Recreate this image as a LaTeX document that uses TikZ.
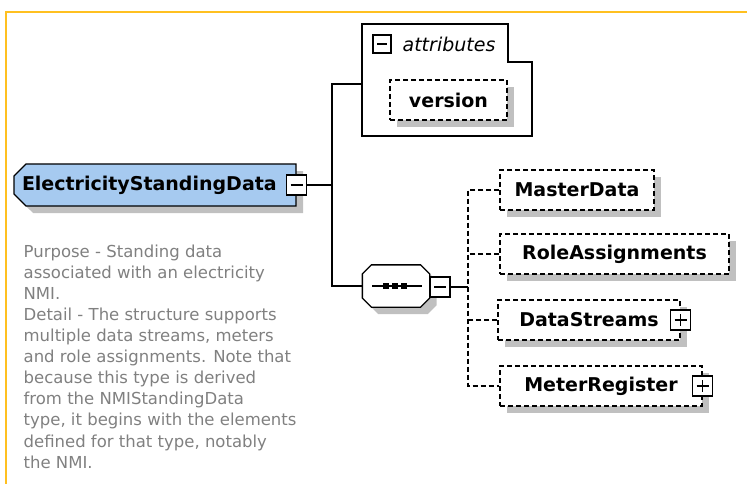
\documentclass[tikz,border=0pt]{standalone}
\usepackage{fontspec}
\setmainfont{DejaVu Sans}
\usetikzlibrary{shapes.misc}
\usetikzlibrary{shadows}
\usetikzlibrary{positioning}
\definecolor{frameorange}{RGB}{255,192,32}
\definecolor{typeblue}{RGB}{166,202,240}
\definecolor{shadowgray}{RGB}{192,192,192}
\definecolor{notegray}{RGB}{128,128,128}

\begin{document}
\begin{tikzpicture}[x=1pt,y=-1pt,line width=1.3pt,
  castshadow/.style={drop shadow={shadow xshift=7pt,shadow yshift=-7pt,fill=shadowgray,opacity=1}},
  dsh/.style={dash pattern=on 5pt off 3pt},
  elem/.style={draw,dsh,fill=white,castshadow,minimum height=40pt,inner sep=0pt,
    font=\fontsize{19}{21}\selectfont\bfseries},
  togglebox/.style={draw,solid,fill=white,minimum size=20pt,inner sep=0pt},
  minusbox/.style={togglebox,path picture={
    \draw[line width=1.2pt] ([xshift=4pt]path picture bounding box.west) -- ([xshift=-4pt]path picture bounding box.east);}},
  plusbox/.style={togglebox,path picture={
    \draw[line width=1.2pt] ([xshift=4pt]path picture bounding box.west) -- ([xshift=-4pt]path picture bounding box.east)
      ([yshift=-4pt]path picture bounding box.north) -- ([yshift=4pt]path picture bounding box.south);}}]
\def\cs{9pt}
\def\q{3pt}
\useasboundingbox (0,0) rectangle (747,484);
\draw[frameorange,line width=2.2pt] (6,484) -- (6,12) -- (747,12);

% the type itself
\node [chamfered rectangle,chamfered rectangle corners={north west,south west},
  chamfered rectangle xsep=6pt,chamfered rectangle ysep=6pt,draw,fill=typeblue,castshadow,
  minimum width=282pt,minimum height=42pt,inner sep=0pt,text width=266pt,align=left,
  font=\fontsize{19}{21}\selectfont\bfseries, name=esd] at (155,185) {ElectricityStandingData};
\node [minusbox, name=esdminus] at (esd.east) {};
\coordinate (trunk) at (332,185);

% documentation
\node [anchor=north west,align=left,inner sep=0pt,text=notegray,
  font=\fontsize{16.5}{21.1}\selectfont, name=note] at (23,244)
  {Purpose - Standing data\\
   associated with an electricity\\
   NMI.\\
   Detail - The structure supports\\
   multiple data streams, meters\\
   and role assignments. Note that\\
   because this type is derived\\
   from the NMIStandingData\\
   type, it begins with the elements\\
   defined for that type, notably\\
   the NMI.};

% attributes group
\draw[fill=white] (362,24) -- (508,24) -- (508,62) -- (532,62) -- (532,136) -- (362,136) -- cycle;
\coordinate (attrin) at (362,84);
\node [minusbox, minimum size=18pt, name=attrminus] at (382,44) {};
\node [anchor=west,inner sep=0pt,font=\fontsize{19}{21}\selectfont\itshape, name=attrlabel] at (402,44) {attributes};
\node [elem, minimum width=117pt, name=version] at (448.5,100) {version};

% sequence
\node [minimum width=66pt,minimum height=41pt,inner sep=0pt, name=seq] at (396,286) {};
\draw [fill=white,castshadow] ([xshift=\cs]seq.north west) -- ([xshift=-\cs]seq.north east)
  -- ([yshift=-\cs]seq.north east) -- ([yshift=\cs]seq.south east)
  -- ([xshift=-\cs]seq.south east) -- ([xshift=\cs]seq.south west)
  -- ([yshift=\cs]seq.south west) -- ([yshift=-\cs]seq.north west) -- cycle;
\draw ([xshift=-24pt]seq.center) -- ([xshift=26pt]seq.center);
\fill ([xshift=-10pt]seq.center) +(-\q,-\q) rectangle +(\q,\q);
\fill ([xshift=-1pt]seq.center) +(-\q,-\q) rectangle +(\q,\q);
\fill ([xshift=8pt]seq.center) +(-\q,-\q) rectangle +(\q,\q);
\node [minusbox, name=seqminus] at (440,287) {};
\coordinate (branch) at (468,287);

% child elements
\node [elem, minimum width=154pt, name=master] at (577,190) {MasterData};
\node [elem, minimum width=229pt, name=role] at (614.5,254) {RoleAssignments};
\node [elem, minimum width=182pt, name=streams] at (589,320) {DataStreams};
\node [elem, minimum width=202pt, name=meter] at (601,386) {MeterRegister};
\node [plusbox, name=streamsplus] at (streams.east) {};
\node [plusbox, name=meterplus] at (meter.east) {};

% connectors
\draw (esdminus) -- (trunk);
\draw (attrin) -| (trunk) |- (seq);
\draw (seqminus) -- (branch);
\draw [dsh] (master) -| (branch) |- (meter);
\draw [dsh] (role) -- (role -| branch);
\draw [dsh] (streams) -- (streams -| branch);
\end{tikzpicture}
\end{document}
